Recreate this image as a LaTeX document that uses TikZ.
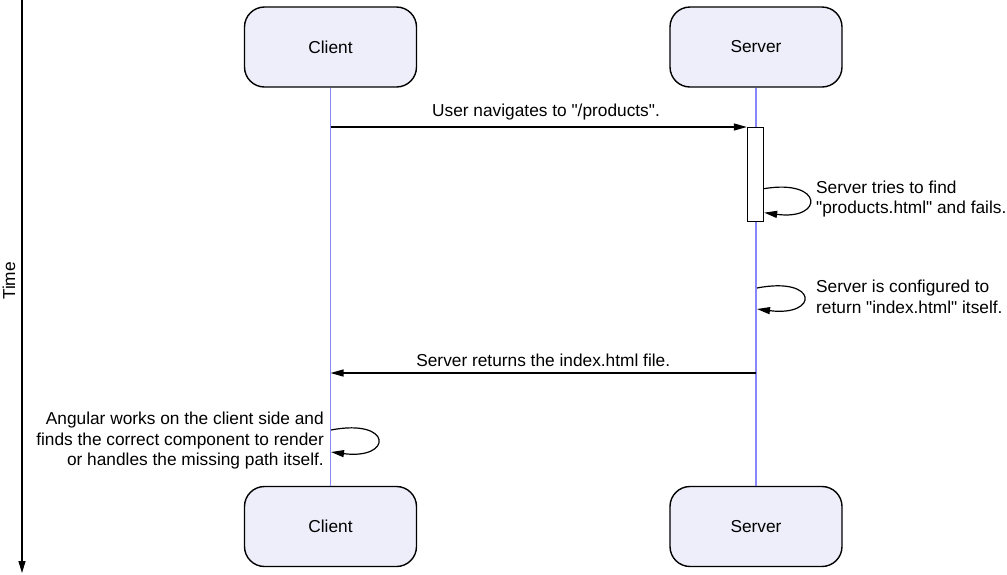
\documentclass[tikz,border=0pt]{standalone}
\usepackage{fontspec}
\setmainfont{Liberation Sans}[Ligatures=TeXOff]
\usetikzlibrary{positioning,calc,arrows.meta}
\definecolor{lifeblue}{RGB}{135,135,250}
\definecolor{boxfill}{RGB}{238,238,251}

\begin{document}
\begin{tikzpicture}[x=1pt, y=-1pt,
    font=\fontsize{17.3}{20.5}\selectfont,
    actor/.style={draw, line width=1.4pt, rounded corners=20pt, fill=boxfill,
        minimum width=172pt, minimum height=80pt, inner sep=0pt},
    lifeline/.style={lifeblue, line width=1.6pt},
    msg/.style={line width=1.2pt, -{Triangle[length=13pt,width=7pt]}},
    note/.style={inner sep=0pt, align=left, anchor=west}]
    \useasboundingbox (0,0) rectangle (1007,574);

    % Time axis
    \coordinate (t0) at (22,0);
    \coordinate (t1) at (22,573);
    \draw[line width=1.4pt, -{Triangle[length=12pt,width=7pt]}] (t0) -- (t1);
    \node[rotate=90, inner sep=0pt] (time) at (9,281) {Time};

    % Actors
    \node[actor] (client) at (330.5,47) {Client};
    \node[actor] (server) at (756,47) {Server};
    \node[actor] (clientb) at (330.5,526.5) {Client};
    \node[actor] (serverb) at (756,526.5) {Server};

    % Lifelines
    \draw[lifeline] (client) -- (clientb);
    \draw[lifeline] (server) -- (serverb);

    % Activation
    \node[draw, line width=1.3pt, fill=white, minimum width=16pt, minimum height=94pt,
        inner sep=0pt, anchor=north] (act) at (755.5,127) {};

    % User request
    \coordinate (req) at (client.south |- act.north west);
    \draw[msg] (req) -- (act.north west);
    \node[inner sep=0pt] (reqtext) at (546,112) {User navigates to "/products".};

    % Server tries to find the file
    \coordinate (fa) at ($(act.east)+(0,14)$);
    \coordinate (fb) at ($(act.east)+(0,38)$);
    \draw[msg] (fa) .. controls +(60,-10) and +(60,8) .. (fb);
    \node[note] (findtext) at (816,199) {Server tries to find\\"products.html" and fails.};

    % Server fallback
    \coordinate (ga) at (757,288);
    \coordinate (gb) at (757,309);
    \draw[msg] (ga) .. controls +(62,-12) and +(62,8) .. (gb);
    \node[note] (conftext) at (816,297) {Server is configured to\\return "index.html" itself.};

    % Response
    \coordinate (resa) at (server.south |- 0,373);
    \coordinate (resb) at (client.south |- 0,373);
    \draw[msg] (resa) -- node[above=6pt, inner sep=0pt] {Server returns the index.html file.} (resb);

    % Angular routing
    \coordinate (ha) at (331,430);
    \coordinate (hb) at (331,452);
    \draw[msg] (ha) .. controls +(62,-12) and +(62,8) .. (hb);
    \node[inner sep=0pt, align=right, anchor=east] (angtext) at (324,441)
        {Angular works on the client side and\\finds the correct component to render\\or handles the missing path itself.};
\end{tikzpicture}
\end{document}
